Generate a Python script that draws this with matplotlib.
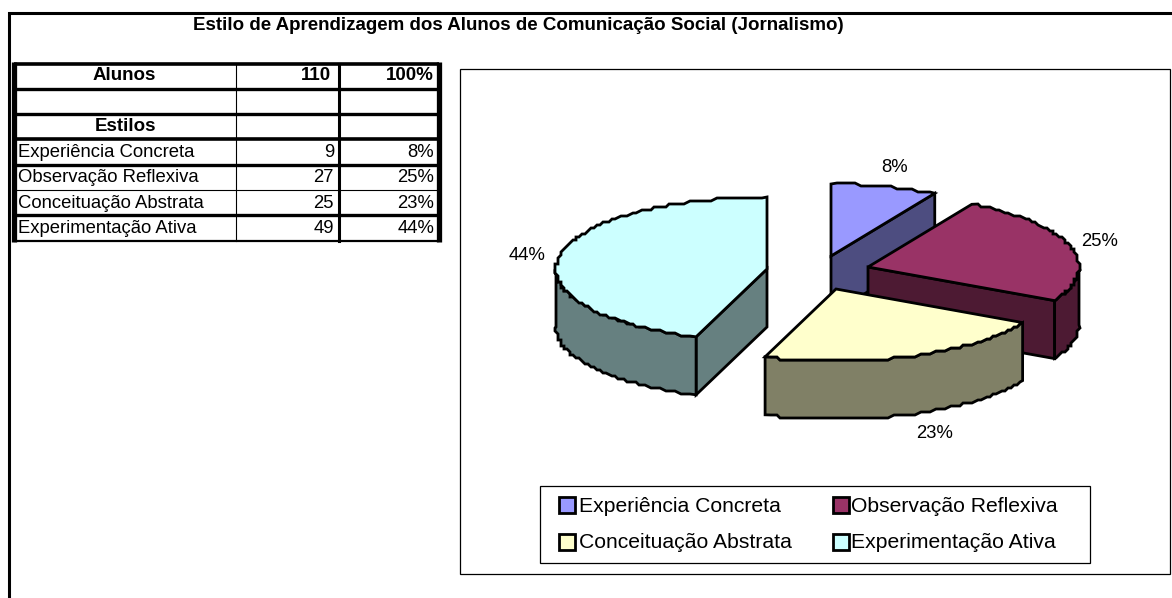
import numpy as np
import matplotlib
matplotlib.use('Agg')
import matplotlib.pyplot as plt
from matplotlib.patches import Polygon, Rectangle

plt.rcParams['font.family'] = ['Liberation Sans', 'DejaVu Sans']

title = 'Estilo de Aprendizagem dos Alunos de Comunicação Social (Jornalismo)'
categories = ['Experiência Concreta', 'Observação Reflexiva', 'Conceituação Abstrata', 'Experimentação Ativa']
counts = [9, 27, 25, 49]
percents = ['8%', '25%', '23%', '44%']
total = 110
total_pct = '100%'

colors = ['#9999ff', '#993366', '#ffffcc', '#ccffff']
side_colors = ['#4d4d80', '#4d1a33', '#808066', '#668080']

# where each exploded slice has its tip, in pixels
tips = [(831, 256), (868, 267), (836, 289), (767, 269)]
label_pos = [(895, 167), (1100, 241), (935, 433), (527, 255)]
RX, RY, DEPTH = 211, 72, 58

fig = plt.figure(figsize=(11.72, 5.98), dpi=100)
ax = fig.add_axes([0, 0, 1, 1])
ax.set_xlim(0, 1172)
ax.set_ylim(598, 0)
ax.axis('off')

# outer frame of the sheet
ax.plot([9, 9, 1172], [598, 12.5, 12.5], color='black', lw=2.2, solid_joinstyle='miter')
ax.text(518.5, 25, title, ha='center', va='center', fontsize=13.5, fontweight='bold')

# table
rows_y = [63.5, 89, 113.5, 139, 164.5, 190, 215, 240.5]
row_lw = [2.6, 2.4, 2.4, 2.6, 2.4, 0.8, 2.4, 1.6]
col_left, col_a, col_b, col_right = 14, 236, 339, 439
for y, lw in zip(rows_y, row_lw):
    ax.plot([col_left, col_right], [y, y], color='black', lw=lw, solid_capstyle='butt')
ax.plot([col_left, col_left], [rows_y[0] - 2, rows_y[-1] + 1], color='black', lw=3.8, solid_capstyle='butt')
ax.plot([col_right, col_right], [rows_y[0] - 2, rows_y[-1] + 1], color='black', lw=3.8, solid_capstyle='butt')
ax.plot([col_a, col_a], [rows_y[0], rows_y[-1]], color='black', lw=0.8)
ax.plot([col_b, col_b], [rows_y[0], rows_y[-1]], color='black', lw=2.2)

def mid(i):
    return (rows_y[i] + rows_y[i + 1]) / 2

ax.text(124, mid(0) - 1, 'Alunos', ha='center', va='center', fontsize=13.5, fontweight='bold')
ax.text(331, mid(0) - 1, str(total), ha='right', va='center', fontsize=13.5, fontweight='bold')
ax.text(434, mid(0) - 1, total_pct, ha='right', va='center', fontsize=13.5, fontweight='bold')
ax.text(126, mid(2), 'Estilos', ha='center', va='center', fontsize=13.5, fontweight='bold')
for k in range(len(categories)):
    ax.text(18, mid(k + 3) + 0.5, categories[k], ha='left', va='center', fontsize=13.3)
    ax.text(334, mid(k + 3) + 0.5, str(counts[k]), ha='right', va='center', fontsize=13.3)
    ax.text(434, mid(k + 3) + 0.5, percents[k], ha='right', va='center', fontsize=13.3)

# chart box
ax.add_patch(Rectangle((460, 69), 709.5, 504.5, fc='white', ec='black', lw=0.9))

# slices, angles clockwise from the top
fractions = np.array(counts) / sum(counts)
ends = np.cumsum(fractions) * 360
starts = ends - fractions * 360

def arc_points(tip, a0, a1, step=1.5):
    n = max(int(abs(a1 - a0) / step), 2)
    a = np.radians(np.linspace(a0, a1, n))
    x = tip[0] + RX * np.sin(a)
    y = tip[1] - RY * np.cos(a)
    pts = np.column_stack([x, y])
    # the original arc is stepped, snap it to a coarse grid but keep its ends
    pts[1:-1] = np.round(pts[1:-1] / 3) * 3
    return pts

def add_face(pts, color, z):
    ax.add_patch(Polygon(pts, closed=True, fc=color, ec='black', lw=2, joinstyle='miter', zorder=z))

for z, i in enumerate([0, 3, 1, 2]):
    tip = np.array(tips[i], dtype=float)
    base = 3 + z
    a0, a1 = starts[i], ends[i]
    inner = arc_points(tip, (a0 + a1) / 2, (a0 + a1) / 2 + 1)[0] - tip
    # cut faces that look towards the viewer
    for a in [a0, a1]:
        p = arc_points(tip, a, a + 1)[0]
        d = p - tip
        n = np.array([-d[1], d[0]])
        if n @ inner > 0:
            n = -n
        if n[1] > 1:
            add_face([tip, p, p + [0, DEPTH], tip + [0, DEPTH]], side_colors[i], base)
    # outer wall
    w0, w1 = max(a0, 90), min(a1, 270)
    if w1 > w0:
        arc = arc_points(tip, w0, w1)
        add_face(np.vstack([arc, arc[::-1] + [0, DEPTH]]), side_colors[i], base + 0.1)
    add_face(np.vstack([tip, arc_points(tip, a0, a1)]), colors[i], base + 0.2)
    ax.text(label_pos[i][0], label_pos[i][1], percents[i], ha='center', va='center', fontsize=13.3, zorder=20)

# legend
ax.add_patch(Rectangle((540, 486), 549.5, 77, fc='white', ec='black', lw=0.9, zorder=20))
leg_x = [559, 833]
leg_text_x = [579, 851]
leg_y = [505, 542]
for k in range(len(categories)):
    x = leg_x[k % 2]
    y = leg_y[k // 2]
    ax.add_patch(Rectangle((x, y - 8), 16, 16, fc=colors[k], ec='black', lw=2, zorder=21))
    ax.text(leg_text_x[k % 2], y + 1, categories[k], ha='left', va='center', fontsize=15.2, zorder=21)

fig.savefig('out.png', dpi=100, facecolor='white')
